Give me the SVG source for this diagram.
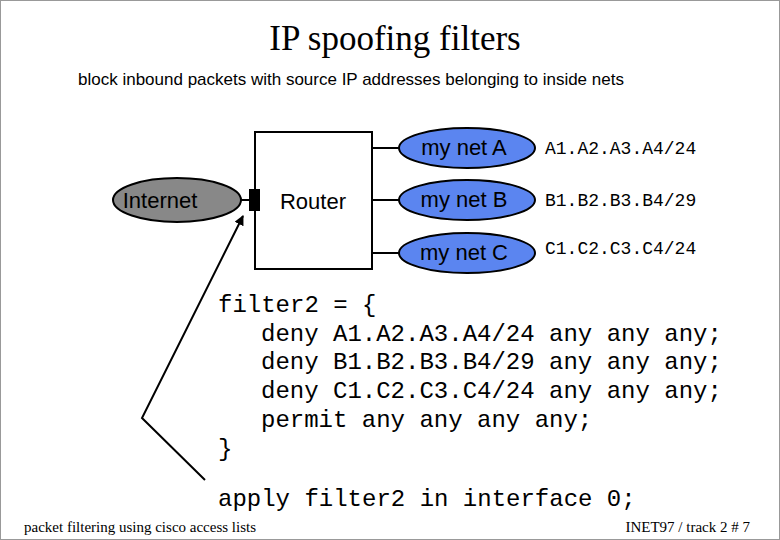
<svg xmlns="http://www.w3.org/2000/svg" width="780" height="540" viewBox="0 0 780 540">
<style>
.s{font-family:"Liberation Sans",Arial,sans-serif;fill:#000}
.m{font-family:"Liberation Mono","Courier New",monospace;fill:#000}
.r{font-family:"Liberation Serif","Times New Roman",serif;fill:#000}
.net{fill:#5b85f0;stroke:#000;stroke-width:2}
.ln{stroke:#000;stroke-width:2;fill:none}
</style>
<defs><marker id="ah" viewBox="0 0 10 10" refX="9" refY="5" markerWidth="5" markerHeight="5" orient="auto"><path d="M0,0L10,5L0,10z" fill="#000"/></marker></defs>
<rect x="0.5" y="0.5" width="779" height="539" fill="#fff" stroke="#999"/>
<text class="r" x="395" y="50" font-size="35" text-anchor="middle">IP spoofing filters</text>
<text class="s" x="78" y="85" font-size="17">block inbound packets with source IP addresses belonging to inside nets</text>
<g id="connectors">
<line class="ln" x1="241" y1="200" x2="250" y2="200"/>
<line class="ln" x1="372" y1="148" x2="399" y2="148"/>
<line class="ln" x1="372" y1="200" x2="399" y2="200"/>
<line class="ln" x1="372" y1="253" x2="399" y2="253"/>
<polyline class="ln" points="205,480 142,418 243,216" marker-end="url(#ah)"/>
</g>
<g id="router"><rect x="255" y="132" width="117" height="137" fill="#fff" stroke="#000" stroke-width="2"/>
<rect x="249" y="189" width="11" height="22" fill="#000"/>
<text class="s" x="313" y="209" font-size="22" text-anchor="middle">Router</text></g>
<g id="internet"><ellipse cx="177" cy="200" rx="64" ry="22" fill="#888" stroke="#000" stroke-width="2"/>
<text class="s" x="160" y="208" font-size="22" text-anchor="middle">Internet</text></g>
<g id="netA"><ellipse class="net" cx="467" cy="148" rx="68" ry="20"/><text class="s" x="464" y="155" font-size="22" text-anchor="middle">my net A</text></g>
<g id="netB"><ellipse class="net" cx="467" cy="200" rx="68" ry="20"/><text class="s" x="464" y="207" font-size="22" text-anchor="middle">my net B</text></g>
<g id="netC"><ellipse class="net" cx="467" cy="253" rx="68" ry="20"/><text class="s" x="464" y="260" font-size="22" text-anchor="middle">my net C</text></g>
<g font-size="18">
<text class="m" x="545" y="154">A1.A2.A3.A4/24</text>
<text class="m" x="545" y="206">B1.B2.B3.B4/29</text>
<text class="m" x="545" y="254">C1.C2.C3.C4/24</text>
</g>
<g font-size="24">
<text class="m" x="218" y="312">filter2 = {</text>
<text class="m" x="261" y="341">deny A1.A2.A3.A4/24 any any any;</text>
<text class="m" x="261" y="369">deny B1.B2.B3.B4/29 any any any;</text>
<text class="m" x="261" y="398">deny C1.C2.C3.C4/24 any any any;</text>
<text class="m" x="261" y="427">permit any any any any;</text>
<text class="m" x="218" y="456">}</text>
<text class="m" x="218" y="506">apply filter2 in interface 0;</text>
</g>
<text class="r" x="24" y="532" font-size="15">packet filtering using cisco access lists</text>
<text class="r" x="750" y="532" font-size="15" text-anchor="end">INET97 / track 2  # 7</text>
</svg>
